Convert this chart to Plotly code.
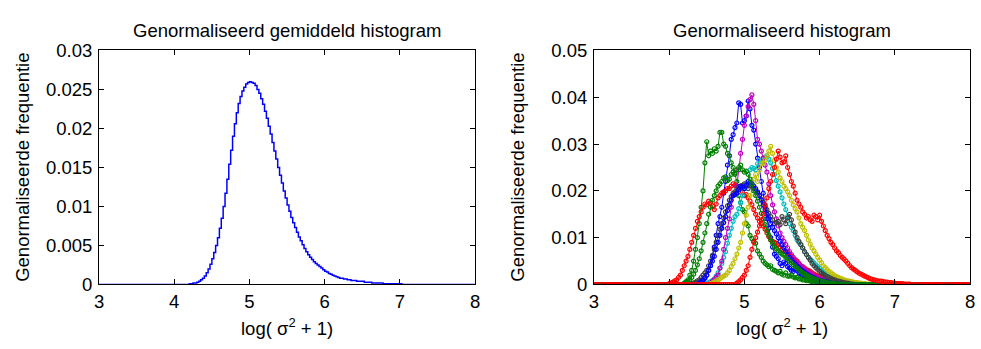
import numpy as np
import plotly.graph_objects as go

# ---------------- data ----------------
X_MIN, X_MAX = 3.0, 8.0
BIN = 0.025          # histogram bin width (x units)

# left: normalised mean histogram, nonzero part starting at 4.200
mean_start = 4.200
mean_hist = [0.0001, 0.0001, 0.0002, 0.0002, 0.0003, 0.0004, 0.0006, 0.0008, 0.0011, 0.0015,
             0.0020, 0.0026, 0.0033, 0.0041, 0.0050, 0.0060, 0.0072, 0.0085, 0.0100, 0.0117,
             0.0135, 0.0154, 0.0172, 0.0190, 0.0206, 0.0220, 0.0232, 0.0241, 0.0248, 0.0253,
             0.0257, 0.0259, 0.0260, 0.0259, 0.0258, 0.0255, 0.0250, 0.0245, 0.0238, 0.0231,
             0.0222, 0.0213, 0.0203, 0.0193, 0.0182, 0.0171, 0.0161, 0.0150, 0.0140, 0.0130,
             0.0120, 0.0111, 0.0102, 0.0094, 0.0086, 0.0079, 0.0073, 0.0067, 0.0061, 0.0056,
             0.0051, 0.0046, 0.0042, 0.0038, 0.0035, 0.0032, 0.0029, 0.0027, 0.0025, 0.0023,
             0.0021, 0.0019, 0.0017, 0.0016, 0.0014, 0.0013, 0.0012, 0.0011, 0.0010, 0.0009,
             0.0008, 0.0008, 0.0007, 0.0007, 0.0006, 0.0006, 0.0005, 0.0005, 0.0005, 0.0004,
             0.0004, 0.0004, 0.0004, 0.0003, 0.0003, 0.0003, 0.0003, 0.0002, 0.0002, 0.0002,
             0.0002, 0.0002, 0.0002, 0.0001, 0.0001, 0.0001, 0.0001, 0.0001, 0.0001, 0.0001,
             0.0001, 0.0001, 0.0001]

# right: individual normalised histograms (first nonzero bin, values)
blue_a_start = 4.400
blue_a = [0.0002, 0.0005, 0.0008, 0.0013, 0.002, 0.003, 0.004, 0.006, 0.008, 0.0105,
          0.013, 0.0145, 0.0165, 0.0195, 0.022, 0.0255, 0.0275, 0.031, 0.032, 0.0335,
          0.0345, 0.0388, 0.0385, 0.0345, 0.035, 0.036, 0.0392, 0.0375, 0.034, 0.033,
          0.030, 0.027, 0.025, 0.022, 0.0195, 0.0165, 0.014, 0.012, 0.010, 0.008,
          0.0065, 0.006, 0.0055, 0.0045, 0.0040, 0.0048, 0.0045, 0.0038, 0.0035, 0.0030,
          0.0028, 0.0032, 0.0030, 0.0025, 0.0022, 0.0020, 0.0018, 0.0015, 0.0012, 0.0011,
          0.0010, 0.0008, 0.0007, 0.0006, 0.0005, 0.0004, 0.0004, 0.0003, 0.0003, 0.0002,
          0.0002, 0.0001, 0.0001]
green_a_start = 4.200
green_a = [0.0003, 0.0006, 0.001, 0.002, 0.003, 0.005, 0.0075, 0.010, 0.013, 0.0165,
           0.020, 0.026, 0.0305, 0.0275, 0.0285, 0.0280, 0.029, 0.0285, 0.0295, 0.0325,
           0.0325, 0.0300, 0.0295, 0.028, 0.0275, 0.026, 0.025, 0.0235, 0.022, 0.019,
           0.0175, 0.016, 0.0155, 0.013, 0.0125, 0.0105, 0.0098, 0.0092, 0.0088, 0.0072,
           0.0065, 0.0058, 0.0050, 0.0045, 0.0042, 0.0038, 0.0040, 0.0032, 0.0030, 0.0028,
           0.0025, 0.0028, 0.0022, 0.0020, 0.0025, 0.0018, 0.0018, 0.0020, 0.0016, 0.0014,
           0.0015, 0.0012, 0.0012, 0.0010, 0.0010, 0.0008, 0.0008, 0.0007, 0.0006, 0.0005,
           0.0005, 0.0004, 0.0004, 0.0003, 0.0003, 0.0002, 0.0002, 0.0001, 0.0001]
red_a_start = 4.000
red_a = [0.0002, 0.0003, 0.0005, 0.0008, 0.001, 0.0015, 0.002, 0.003, 0.004, 0.005,
         0.006, 0.0075, 0.009, 0.0105, 0.012, 0.0135, 0.0145, 0.0155, 0.0165, 0.0172,
         0.017, 0.0178, 0.0175, 0.0168, 0.016, 0.0172, 0.0185, 0.019, 0.0195, 0.0198,
         0.020, 0.0205, 0.0205, 0.021, 0.0215, 0.0212, 0.021, 0.0208, 0.0205, 0.0198,
         0.019, 0.0192, 0.0185, 0.0178, 0.017, 0.016, 0.015, 0.0142, 0.0135, 0.013,
         0.0125, 0.0118, 0.011, 0.0102, 0.0095, 0.0092, 0.009, 0.0088, 0.0085, 0.008,
         0.0075, 0.0072, 0.0070, 0.0068, 0.0065, 0.0060, 0.0055, 0.0052, 0.0050, 0.0045,
         0.0040, 0.0038, 0.0035, 0.0032, 0.0030, 0.0028, 0.0025, 0.0022, 0.0020, 0.0018,
         0.0017, 0.0015, 0.0014, 0.0012, 0.0011, 0.0010, 0.0009, 0.0008, 0.0007, 0.0006,
         0.0005, 0.0005, 0.0004, 0.0003, 0.0003, 0.0002, 0.0002, 0.0001, 0.0001]
cyan_start = 4.500
cyan = [0.0002, 0.0004, 0.0006, 0.0009, 0.0012, 0.0018, 0.0025, 0.0035, 0.0045, 0.0058,
        0.007, 0.0088, 0.0105, 0.012, 0.0135, 0.0145, 0.015, 0.0162, 0.0175, 0.019,
        0.0205, 0.0215, 0.022, 0.0245, 0.025, 0.0248, 0.0245, 0.0258, 0.0265, 0.0262,
        0.027, 0.0272, 0.0275, 0.0268, 0.026, 0.0248, 0.0235, 0.0222, 0.021, 0.0198,
        0.0185, 0.0172, 0.016, 0.0145, 0.013, 0.0122, 0.0115, 0.0105, 0.0095, 0.009,
        0.0085, 0.0078, 0.007, 0.0064, 0.0058, 0.0054, 0.0050, 0.0046, 0.0042, 0.0038,
        0.0035, 0.0031, 0.0028, 0.0025, 0.0022, 0.0019, 0.0017, 0.0015, 0.0013, 0.0011,
        0.0010, 0.0009, 0.0008, 0.0007, 0.0006, 0.0005, 0.0004, 0.0003, 0.0003, 0.0002,
        0.0002, 0.0001, 0.0001]
magenta_start = 4.550
magenta = [0.0003, 0.0006, 0.001, 0.0015, 0.002, 0.0035, 0.005, 0.0075, 0.010, 0.012,
           0.014, 0.0165, 0.019, 0.0195, 0.021, 0.0245, 0.028, 0.031, 0.034, 0.036,
           0.038, 0.0395, 0.0405, 0.0385, 0.035, 0.031, 0.030, 0.0285, 0.027, 0.0255,
           0.024, 0.0215, 0.019, 0.017, 0.0155, 0.014, 0.0125, 0.011, 0.010, 0.0092,
           0.0085, 0.0078, 0.0070, 0.0064, 0.0058, 0.0053, 0.0048, 0.0044, 0.0040, 0.0036,
           0.0033, 0.0030, 0.0027, 0.0024, 0.0022, 0.0019, 0.0017, 0.0015, 0.0013, 0.0011,
           0.0010, 0.0009, 0.0008, 0.0007, 0.0006, 0.0005, 0.0004, 0.0003, 0.0003, 0.0002,
           0.0002, 0.0001, 0.0001]
yellow_start = 4.550
yellow = [0.0002, 0.0003, 0.0005, 0.0008, 0.001, 0.0012, 0.0015, 0.0018, 0.002, 0.0025,
          0.003, 0.0038, 0.0045, 0.0055, 0.0065, 0.0078, 0.009, 0.011, 0.013, 0.0148,
          0.0165, 0.019, 0.021, 0.0225, 0.0235, 0.022, 0.0245, 0.0258, 0.026, 0.0265,
          0.0275, 0.0285, 0.0295, 0.028, 0.0265, 0.025, 0.024, 0.0228, 0.022, 0.021,
          0.0205, 0.0198, 0.019, 0.018, 0.017, 0.0162, 0.0155, 0.0142, 0.013, 0.0122,
          0.0115, 0.0105, 0.0095, 0.0086, 0.0078, 0.0072, 0.0065, 0.0058, 0.0052, 0.0046,
          0.0040, 0.0036, 0.0032, 0.0028, 0.0025, 0.0022, 0.0019, 0.0017, 0.0015, 0.0013,
          0.0012, 0.0010, 0.0009, 0.0008, 0.0007, 0.0006, 0.0005, 0.0004, 0.0004, 0.0003,
          0.0003, 0.0002, 0.0002, 0.0001, 0.0001]
gray_start = 4.300
gray = [0.0002, 0.0003, 0.0005, 0.0008, 0.001, 0.0015, 0.002, 0.0025, 0.003, 0.004,
        0.005, 0.0062, 0.0075, 0.009, 0.0105, 0.0118, 0.013, 0.0142, 0.0155, 0.0168,
        0.018, 0.0188, 0.0195, 0.0198, 0.0205, 0.0208, 0.021, 0.0212, 0.0215, 0.021,
        0.0205, 0.0212, 0.021, 0.0205, 0.020, 0.0195, 0.019, 0.0182, 0.0175, 0.0168,
        0.016, 0.0152, 0.0145, 0.0138, 0.013, 0.0132, 0.0135, 0.0128, 0.0145, 0.0138,
        0.013, 0.0142, 0.015, 0.0138, 0.0125, 0.0112, 0.010, 0.0092, 0.0085, 0.0078,
        0.007, 0.0064, 0.0058, 0.0052, 0.0045, 0.0040, 0.0036, 0.0032, 0.0028, 0.0025,
        0.0022, 0.0019, 0.0017, 0.0015, 0.0013, 0.0011, 0.0010, 0.0008, 0.0007, 0.0006,
        0.0005, 0.0004, 0.0003, 0.0003, 0.0002, 0.0001, 0.0001]
blue_b_start = 4.400
blue_b = [0.0003, 0.0006, 0.001, 0.0015, 0.002, 0.003, 0.004, 0.005, 0.006, 0.0075,
          0.009, 0.0105, 0.012, 0.0132, 0.0145, 0.0158, 0.017, 0.018, 0.019, 0.0192,
          0.0195, 0.0202, 0.021, 0.0208, 0.0205, 0.0212, 0.022, 0.0218, 0.0215, 0.021,
          0.0205, 0.0198, 0.019, 0.018, 0.017, 0.016, 0.015, 0.014, 0.013, 0.0122,
          0.0115, 0.0108, 0.010, 0.0092, 0.0085, 0.0078, 0.007, 0.0064, 0.0058, 0.0053,
          0.0048, 0.0044, 0.0040, 0.0036, 0.0032, 0.0029, 0.0026, 0.0023, 0.0020, 0.0018,
          0.0016, 0.0014, 0.0012, 0.0010, 0.0009, 0.0008, 0.0007, 0.0006, 0.0005, 0.0004,
          0.0003, 0.0002, 0.0002, 0.0001, 0.0001]
green_b_start = 4.200
green_b = [0.0002, 0.0004, 0.0006, 0.001, 0.0015, 0.0022, 0.003, 0.0042, 0.0055, 0.0072,
           0.009, 0.011, 0.013, 0.015, 0.0165, 0.018, 0.019, 0.020, 0.021, 0.0215,
           0.022, 0.0228, 0.023, 0.0222, 0.0225, 0.0235, 0.024, 0.0238, 0.0245, 0.025,
           0.0255, 0.0245, 0.024, 0.0242, 0.0235, 0.0225, 0.0215, 0.020, 0.019, 0.0178,
           0.0165, 0.0152, 0.014, 0.0128, 0.0115, 0.0105, 0.0095, 0.0088, 0.008, 0.0076,
           0.0072, 0.0068, 0.0065, 0.0062, 0.0058, 0.0054, 0.0050, 0.0046, 0.0042, 0.0038,
           0.0035, 0.0032, 0.0028, 0.0025, 0.0023, 0.0020, 0.0018, 0.0016, 0.0014, 0.0012,
           0.0011, 0.0009, 0.0008, 0.0007, 0.0006, 0.0005, 0.0004, 0.0003, 0.0003, 0.0002,
           0.0002, 0.0001, 0.0001]
red_b_start = 4.900
red_b = [0.0003, 0.0006, 0.001, 0.0015, 0.002, 0.003, 0.004, 0.0058, 0.0075, 0.009,
         0.010, 0.0112, 0.0125, 0.0138, 0.015, 0.017, 0.0185, 0.0205, 0.022, 0.0235,
         0.025, 0.0268, 0.0285, 0.0272, 0.026, 0.0262, 0.0275, 0.025, 0.0235, 0.022,
         0.021, 0.0195, 0.018, 0.0172, 0.0165, 0.0155, 0.015, 0.0142, 0.0145, 0.0138,
         0.0135, 0.0148, 0.0145, 0.0138, 0.0148, 0.0135, 0.0125, 0.0115, 0.0105, 0.0098,
         0.009, 0.0085, 0.0078, 0.0072, 0.0068, 0.0062, 0.0058, 0.0054, 0.0050, 0.0045,
         0.0040, 0.0036, 0.0033, 0.0030, 0.0027, 0.0024, 0.0022, 0.0020, 0.0018, 0.0016,
         0.0014, 0.0012, 0.0011, 0.0010, 0.0009, 0.0008, 0.0007, 0.0007, 0.0006, 0.0005,
         0.0005, 0.0004, 0.0004, 0.0003, 0.0003, 0.0002, 0.0002, 0.0002, 0.0002, 0.0001,
         0.0001, 0.0001, 0.0001]

# drawing order follows MATLAB's default colour order
series = [
    (blue_a_start, blue_a, "rgb(0,0,255)"),
    (green_a_start, green_a, "rgb(0,128,0)"),
    (red_a_start, red_a, "rgb(255,0,0)"),
    (cyan_start, cyan, "rgb(0,191,191)"),
    (magenta_start, magenta, "rgb(191,0,191)"),
    (yellow_start, yellow, "rgb(191,191,0)"),
    (gray_start, gray, "rgb(64,64,64)"),
    (blue_b_start, blue_b, "rgb(0,0,255)"),
    (green_b_start, green_b, "rgb(0,128,0)"),
    (red_b_start, red_b, "rgb(255,0,0)"),
]

X_TICKS = [3, 4, 5, 6, 7, 8]
Y_TICKS_LEFT = [0, 0.005, 0.01, 0.015, 0.02, 0.025, 0.03]
Y_TICKS_LEFT_TEXT = ["0", "0.005", "0.01", "0.015", "0.02", "0.025", "0.03"]
Y_TICKS_RIGHT = [0, 0.01, 0.02, 0.03, 0.04, 0.05]
Y_TICKS_RIGHT_TEXT = ["0", "0.01", "0.02", "0.03", "0.04", "0.05"]

TITLE_LEFT = "Genormaliseerd gemiddeld histogram"
TITLE_RIGHT = "Genormaliseerd histogram"
Y_TITLE = "Genormaliseerde frequentie"
X_TITLE = "log( σ<sup>2</sup> + 1)"

# ---------------- helpers ----------------
n_bins = int(round((X_MAX - X_MIN) / BIN)) + 1
grid = X_MIN + BIN * np.arange(n_bins)


def full(start, vals):
    out = np.zeros(n_bins)
    i0 = int(round((start - X_MIN) / BIN))
    out[i0:i0 + len(vals)] = vals
    return out


# ---------------- figure ----------------
W, H = 981, 349
FONT = "Liberation Sans, Arial, Helvetica, sans-serif"
FS = 18.5


def fx(p):
    return p / W


def fy(p):
    return 1 - p / H


fig = go.Figure()

fig.add_trace(go.Scatter(x=grid, y=full(mean_start, mean_hist), mode="lines",
                         line=dict(color="rgb(0,0,255)", width=1.5, shape="hv"),
                         xaxis="x", yaxis="y", showlegend=False, hoverinfo="skip"))

for start, vals, col in series:
    fig.add_trace(go.Scatter(x=grid, y=full(start, vals), mode="lines+markers",
                             line=dict(color=col, width=1),
                             marker=dict(color=col, size=4, symbol="circle-open",
                                         line=dict(color=col, width=1.2)),
                             xaxis="x2", yaxis="y2", showlegend=False, hoverinfo="skip"))

ydom = [fy(291), fy(42)]

axis_common = dict(showline=True, linecolor="black", linewidth=1, mirror="ticks",
                   ticks="inside", ticklen=5, tickcolor="black", showgrid=False,
                   zeroline=False, tickfont=dict(family=FONT, size=FS, color="black"))

fig.update_layout(
    width=W, height=H, autosize=False, margin=dict(l=0, r=0, t=0, b=0),
    paper_bgcolor="white", plot_bgcolor="white",
    font=dict(family=FONT, size=FS, color="black"),
    xaxis=dict(domain=[fx(95), fx(475)], range=[X_MIN, X_MAX], tickvals=X_TICKS,
               anchor="y", **axis_common),
    yaxis=dict(domain=ydom, range=[0, 0.03], tickvals=Y_TICKS_LEFT, ticktext=Y_TICKS_LEFT_TEXT,
               anchor="x", ticklabelstandoff=2, **axis_common),
    xaxis2=dict(domain=[fx(595), fx(975)], range=[X_MIN, X_MAX], tickvals=X_TICKS,
                anchor="y2", **axis_common),
    yaxis2=dict(domain=ydom, range=[0, 0.05], tickvals=Y_TICKS_RIGHT, ticktext=Y_TICKS_RIGHT_TEXT,
                anchor="x2", ticklabelstandoff=2, **axis_common),
)

ann = []
for cx, t, yx in [((95 + 475) / 2, TITLE_LEFT, 17), ((595 + 975) / 2, TITLE_RIGHT, 517)]:
    ann.append(dict(x=fx(cx), y=fy(21), xref="paper", yref="paper", text=t,
                    showarrow=False, xanchor="center", yanchor="middle",
                    font=dict(family=FONT, size=FS, color="black")))
    ann.append(dict(x=fx(cx), y=fy(336), xref="paper", yref="paper", text=X_TITLE,
                    showarrow=False, xanchor="center", yanchor="middle",
                    font=dict(family=FONT, size=FS, color="black")))
    ann.append(dict(x=fx(yx), y=fy(166), xref="paper", yref="paper", text=Y_TITLE,
                    showarrow=False, xanchor="center", yanchor="middle", textangle=-90,
                    font=dict(family=FONT, size=FS, color="black")))
fig.update_layout(annotations=ann)

fig.write_html("out.html")
